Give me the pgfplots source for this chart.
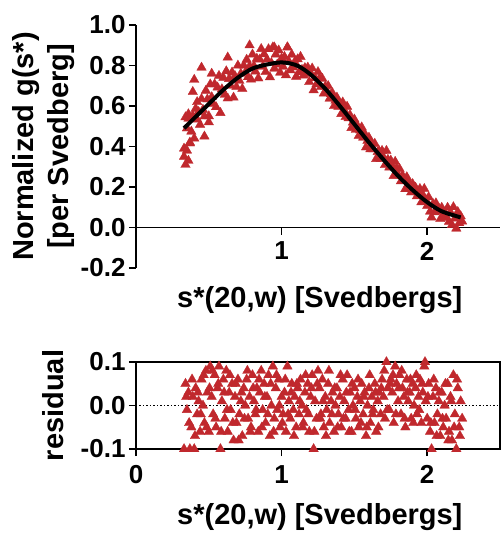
\documentclass[border=0pt]{standalone}
\usepackage{fontspec}
\setmainfont{Liberation Sans}
\usepackage{pgfplots}
\usepackage{pgfplotstable}
\pgfplotsset{compat=1.18}
\definecolor{dred}{HTML}{C0282D}

% x, normalized g(s*), residual
\pgfplotstableread{
x g r
0.33 0.390 -0.10
0.34 0.545 0.05
0.35 0.490 -0.01
0.36 0.538 0.03
0.37 0.416 -0.10
0.38 0.474 -0.05
0.39 0.552 0.02
0.40 0.440 -0.10
0.41 0.587 0.04
0.42 0.534 -0.02
0.43 0.571 0.01
0.44 0.508 -0.06
0.45 0.635 0.06
0.46 0.582 0.00
0.47 0.549 -0.04
0.48 0.676 0.08
0.49 0.633 0.03
0.50 0.550 -0.06
0.51 0.707 0.09
0.52 0.644 0.02
0.53 0.611 -0.02
0.54 0.708 0.07
0.55 0.595 -0.05
0.56 0.692 0.04
0.57 0.749 0.09
0.58 0.566 -0.10
0.59 0.683 0.01
0.60 0.740 0.06
0.61 0.656 -0.03
0.62 0.772 0.08
0.63 0.638 -0.06
0.64 0.734 0.03
0.65 0.700 -0.01
0.66 0.766 0.05
0.67 0.642 -0.08
0.68 0.748 0.02
0.69 0.694 -0.04
0.70 0.800 0.06
0.71 0.725 -0.02
0.72 0.760 0.01
0.73 0.685 -0.07
0.74 0.800 0.04
0.75 0.765 0.00
0.76 0.829 0.06
0.77 0.743 -0.03
0.78 0.797 0.02
0.79 0.731 -0.05
0.80 0.855 0.07
0.81 0.798 0.01
0.82 0.771 -0.02
0.83 0.834 0.04
0.84 0.737 -0.06
0.85 0.830 0.03
0.86 0.882 0.08
0.87 0.794 -0.01
0.88 0.856 0.05
0.89 0.768 -0.04
0.90 0.830 0.02
0.91 0.881 0.07
0.92 0.742 -0.07
0.93 0.813 0.00
0.94 0.890 0.09
0.95 0.785 -0.03
0.96 0.855 0.04
0.97 0.805 -0.01
0.98 0.875 0.06
0.99 0.765 -0.05
1.00 0.835 0.02
1.01 0.794 -0.02
1.02 0.843 0.03
1.03 0.752 -0.06
1.04 0.890 0.09
1.05 0.820 0.01
1.06 0.777 -0.03
1.07 0.854 0.05
1.08 0.791 -0.01
1.09 0.818 0.02
1.10 0.745 -0.05
1.11 0.831 0.04
1.12 0.767 -0.02
1.13 0.843 0.06
1.14 0.779 0.00
1.15 0.751 -0.04
1.16 0.788 0.03
1.17 0.759 -0.01
1.18 0.790 0.05
1.19 0.719 -0.06
1.20 0.762 0.02
1.21 0.786 0.07
1.22 0.678 -0.10
1.23 0.738 0.01
1.24 0.708 -0.03
1.25 0.768 0.08
1.26 0.737 0.04
1.27 0.694 -0.02
1.28 0.735 0.06
1.29 0.662 -0.05
1.30 0.697 0.02
1.31 0.671 -0.01
1.32 0.699 0.05
1.33 0.637 -0.04
1.34 0.659 0.01
1.35 0.663 0.03
1.36 0.600 -0.06
1.37 0.627 0.00
1.38 0.642 0.04
1.39 0.597 -0.02
1.40 0.612 0.02
1.41 0.561 -0.05
1.42 0.618 0.06
1.43 0.579 0.01
1.44 0.546 -0.03
1.45 0.597 0.07
1.46 0.540 -0.01
1.47 0.555 0.03
1.48 0.492 -0.06
1.49 0.519 0.00
1.50 0.534 0.04
1.51 0.483 -0.03
1.52 0.504 0.02
1.53 0.453 -0.05
1.54 0.480 0.01
1.55 0.495 0.05
1.56 0.444 -0.02
1.57 0.465 0.03
1.58 0.396 -0.07
1.59 0.429 0.00
1.60 0.444 0.04
1.61 0.387 -0.04
1.62 0.414 0.02
1.63 0.387 -0.01
1.64 0.414 0.05
1.65 0.339 -0.06
1.66 0.373 0.01
1.67 0.377 0.03
1.68 0.339 -0.02
1.69 0.379 0.06
1.70 0.347 0.02
1.71 0.309 -0.03
1.72 0.379 0.10
1.73 0.335 0.04
1.74 0.297 -0.01
1.75 0.331 0.06
1.76 0.305 0.03
1.77 0.255 -0.04
1.78 0.325 0.09
1.79 0.293 0.05
1.80 0.261 0.01
1.81 0.290 0.07
1.82 0.229 -0.02
1.83 0.258 0.04
1.84 0.239 0.02
1.85 0.190 -0.05
1.86 0.249 0.06
1.87 0.212 0.01
1.88 0.217 0.03
1.89 0.174 -0.03
1.90 0.215 0.05
1.91 0.179 0.00
1.92 0.197 0.04
1.93 0.155 -0.02
1.94 0.173 0.02
1.95 0.191 0.06
1.96 0.125 -0.04
1.97 0.161 0.03
1.98 0.191 0.09
1.99 0.137 0.01
2.00 0.107 -0.03
2.01 0.150 0.05
2.02 0.079 -0.06
2.03 0.050 -0.10
2.04 0.117 0.02
2.05 0.076 -0.04
2.06 0.120 0.04
2.07 0.080 -0.02
2.08 0.094 0.01
2.09 0.042 -0.07
2.10 0.098 0.03
2.11 0.047 -0.05
2.12 0.074 0.00
2.13 0.053 -0.03
2.14 0.098 0.05
2.15 0.029 -0.06
2.16 0.075 0.02
2.17 0.013 -0.08
2.18 0.101 0.07
2.19 0.045 -0.02
2.20 -0.005 -0.10
2.21 0.077 0.04
2.22 0.022 -0.05
2.23 0.056 0.01
2.24 0.030 -0.03
}\datatable

% further residual points between the grid values
\pgfplotstableread{
x r
0.345 0.02
0.365 -0.04
0.385 0.06
0.405 -0.07
0.425 0.03
0.445 -0.02
0.465 0.07
0.485 -0.05
0.505 0.04
0.525 0.08
0.545 -0.03
0.565 0.05
0.585 -0.06
0.605 0.03
0.625 -0.01
0.645 0.07
0.665 -0.04
0.685 0.05
0.705 -0.08
0.725 0.03
0.745 -0.03
0.765 0.08
0.785 -0.06
0.805 0.04
0.825 -0.01
0.845 0.06
0.865 -0.05
0.885 0.02
0.905 -0.02
0.925 0.05
0.945 -0.06
0.965 0.07
0.985 0.00
1.005 -0.04
1.025 0.06
1.045 -0.02
1.065 0.03
1.085 -0.07
1.105 0.05
1.125 0.01
1.145 -0.05
1.165 0.07
1.185 -0.02
1.205 0.04
1.225 -0.06
1.245 0.05
1.265 -0.03
1.285 0.01
1.305 -0.07
1.325 0.08
1.345 -0.02
1.365 0.04
1.385 -0.05
1.405 0.07
1.425 -0.03
1.445 0.03
1.465 -0.06
1.485 0.05
1.505 -0.01
1.525 0.06
1.545 -0.04
1.565 0.02
1.585 -0.05
1.605 0.07
1.625 -0.02
1.645 0.03
1.665 -0.05
1.685 0.04
1.705 0.08
1.725 -0.01
1.745 0.05
1.765 0.07
1.785 -0.02
1.805 0.04
1.825 0.08
1.845 -0.03
1.865 0.03
1.885 0.06
1.905 -0.04
1.925 0.07
1.945 -0.01
1.965 0.05
1.985 0.10
2.005 0.02
2.025 -0.04
2.045 0.06
2.065 -0.07
2.085 0.03
2.105 -0.03
2.125 0.05
2.145 -0.08
2.165 0.01
2.185 -0.05
2.205 0.06
2.225 -0.07
}\residextra

\begin{document}
\begin{tikzpicture}
\pgfplotsset{
  every axis/.append style={
    scale only axis, width=364pt,
    tick label style={font=\fontsize{26}{30}\selectfont\bfseries},
    label style={font=\fontsize{29}{35}\selectfont\bfseries},
    /pgf/number format/assume math mode=true,
    axis line style={line width=1.8pt},
    tick style={line width=1.8pt, black},
    major tick length=7pt,
    tick align=outside,
    xmin=0, xmax=2.5,
    clip=false,
    clip marker paths=true,
  },
  redtri/.style={only marks, mark=triangle*, mark size=5.5pt,
    mark options={fill=dred, draw=dred, line width=0.3pt}},
}
\begin{axis}[
  height=243pt,
  ymin=-0.2, ymax=1.0,
  axis x line*=middle, axis y line*=left,
  xtick={1,2}, ytick={-0.2,0,0.2,0.4,0.6,0.8,1.0},
  xticklabel style={yshift=-4pt},
  yticklabel style={/pgf/number format/.cd, fixed, fixed zerofill, precision=1},
  xlabel={s*(20,w) [Svedbergs]},
  ylabel={\begin{tabular}{@{}c@{}}Normalized g(s*)\\{[}per Svedberg{]}\end{tabular}},
  xlabel style={at={(axis description cs:0.505,-0.132)}, anchor=center},
  ylabel style={at={(axis description cs:-0.253,0.5)}, anchor=center},
]
  \addplot[redtri] table[x=x, y=g] {\datatable};
  \addplot[redtri] coordinates {
    (0.33,0.35) (0.34,0.31) (0.35,0.38) (0.36,0.33) (0.37,0.42) (0.39,0.67)
    (0.40,0.73) (0.45,0.79) (0.63,0.84) (0.52,0.76) (0.47,0.45) (0.50,0.52)
    (0.78,0.90) (0.95,0.89) (1.04,0.89) (0.36,0.56) (0.42,0.62)
  };
  \addplot[black, line width=4pt, smooth] coordinates {
    (0.33,0.49) (0.40,0.54) (0.50,0.61) (0.60,0.68) (0.70,0.74) (0.80,0.785)
    (0.90,0.805) (0.99,0.815) (1.06,0.81) (1.12,0.795) (1.20,0.755) (1.30,0.685)
    (1.40,0.60) (1.50,0.51) (1.60,0.42) (1.70,0.335) (1.80,0.255) (1.90,0.185)
    (2.00,0.125) (2.10,0.08) (2.23,0.05)
  };
\end{axis}
\begin{axis}[
  at={(0,-181pt)}, anchor=south west,
  height=87pt,
  ymin=-0.1, ymax=0.1,
  xtick={0,1,2}, ytick={-0.1,0,0.1},
  xtick pos=bottom, ytick pos=left,
  xticklabel style={yshift=-6pt},
  yticklabel style={/pgf/number format/.cd, fixed, fixed zerofill, precision=1},
  xlabel={s*(20,w) [Svedbergs]},
  ylabel={residual},
  xlabel style={at={(axis description cs:0.505,-0.78)}, anchor=center},
  ylabel style={at={(axis description cs:-0.228,0.5)}, anchor=center},
]
  \addplot[black, dotted, line width=1.5pt] coordinates {(0,0) (2.5,0)};
  \addplot[redtri] table[x=x, y=r] {\datatable};
  \addplot[redtri] table[x=x, y=r] {\residextra};
\end{axis}
\pgfresetboundingbox
\path (-136pt,268pt) rectangle (367pt,-265pt);
\end{tikzpicture}
\end{document}
